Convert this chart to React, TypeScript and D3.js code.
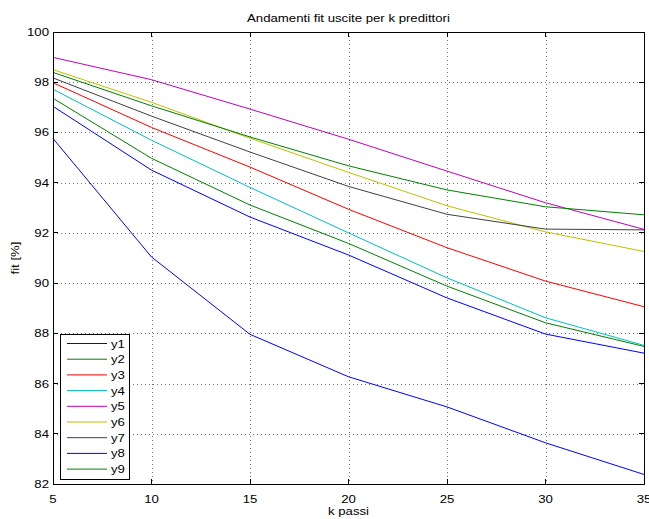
import React from "react";
import * as d3 from "d3";

const kSteps = [5, 10, 15, 20, 25, 30, 35];
const seriesNames = ["y1", "y2", "y3", "y4", "y5", "y6", "y7", "y8", "y9"];
const y1 = [97.04, 94.5, 92.63, 91.12, 89.41, 87.97, 87.21];
const y2 = [97.36, 94.97, 93.11, 91.58, 89.88, 88.42, 87.48];
const y3 = [97.98, 96.2, 94.62, 92.94, 91.41, 90.08, 89.06];
const y4 = [97.72, 95.69, 93.81, 92.0, 90.21, 88.62, 87.52];
const y5 = [98.99, 98.1, 96.93, 95.73, 94.46, 93.2, 92.14];
const y6 = [98.5, 97.2, 95.77, 94.41, 93.08, 92.04, 91.26];
const y7 = [98.17, 96.65, 95.22, 93.85, 92.74, 92.15, 92.12];
const y8 = [95.76, 91.04, 87.96, 86.27, 85.07, 83.64, 82.38];
const y9 = [98.39, 97.06, 95.82, 94.67, 93.71, 93.04, 92.72];
const seriesValues = [y1, y2, y3, y4, y5, y6, y7, y8, y9];
const seriesColors = [
  "#0000ff",
  "#008000",
  "#ff0000",
  "#00bfbf",
  "#bf00bf",
  "#bfbf00",
  "#404040",
  "#0000ff",
  "#008000",
];
const xTicks = [5, 10, 15, 20, 25, 30, 35];
const yTicks = [82, 84, 86, 88, 90, 92, 94, 96, 98, 100];

const W = 649;
const H = 519;
const M = { left: 53, right: 5, top: 32, bottom: 35 };
const SX = 1.2;

function T(props: {
  x: number;
  y: number;
  anchor?: "start" | "middle" | "end";
  size?: number;
  rotate?: boolean;
  children: React.ReactNode;
}) {
  const { x, y, anchor = "start", size = 11, rotate = false, children } = props;
  const tr = rotate
    ? `translate(${x},${y}) rotate(-90) scale(${SX},1)`
    : `translate(${x},${y}) scale(${SX},1)`;
  return (
    <text transform={tr} textAnchor={anchor} fontSize={size} fill="#000">
      {children}
    </text>
  );
}

export default function App() {
  const x = d3.scaleLinear().domain([5, 35]).range([M.left, W - M.right]);
  const y = d3.scaleLinear().domain([82, 100]).range([H - M.bottom, M.top]);
  const line = d3
    .line<number>()
    .x((_, i) => x(kSteps[i]))
    .y((d) => y(d));
  const x0 = x(5),
    x1 = x(35),
    yTop = y(100),
    yBot = y(82);
  const font = "'Liberation Sans', Arial, Helvetica, sans-serif";
  const tick = 5;
  const legend = { x: 60, y: 334, w: 69, h: 145, row: 15.7 };

  return (
    <svg
      width={W}
      height={H}
      style={{ position: "absolute", left: 0, top: 0, background: "#fff" }}
      fontFamily={font}
    >
      <rect x={0} y={0} width={W} height={H} fill="#fff" />
      {/* grid */}
      <g stroke="#000" strokeWidth={1} strokeDasharray="1,3" shapeRendering="crispEdges" opacity={0.55}>
        {xTicks.slice(1, -1).map((t) => (
          <line key={"gx" + t} x1={Math.round(x(t)) + 0.5} x2={Math.round(x(t)) + 0.5} y1={yTop} y2={yBot} />
        ))}
        {yTicks.slice(1, -1).map((t) => (
          <line key={"gy" + t} x1={x0} x2={x1} y1={Math.round(y(t)) + 0.5} y2={Math.round(y(t)) + 0.5} />
        ))}
      </g>
      {/* series */}
      <g fill="none" strokeWidth={1}>
        {seriesValues.map((vals, i) => (
          <path key={seriesNames[i]} d={line(vals) || ""} stroke={seriesColors[i]} />
        ))}
      </g>
      {/* frame and ticks */}
      <g stroke="#000" strokeWidth={1} shapeRendering="crispEdges">
        <rect x={x0} y={yTop} width={x1 - x0} height={yBot - yTop} fill="none" />
        {xTicks.map((t) => (
          <g key={"tx" + t}>
            <line x1={x(t)} x2={x(t)} y1={yBot} y2={yBot - tick} />
            <line x1={x(t)} x2={x(t)} y1={yTop} y2={yTop + tick} />
          </g>
        ))}
        {yTicks.map((t) => (
          <g key={"ty" + t}>
            <line x1={x0} x2={x0 + tick} y1={y(t)} y2={y(t)} />
            <line x1={x1} x2={x1 - tick} y1={y(t)} y2={y(t)} />
          </g>
        ))}
      </g>
      {/* tick labels */}
      {xTicks.map((t) => (
        <T key={"lx" + t} x={x(t)} y={yBot + 19} anchor="middle">
          {t}
        </T>
      ))}
      {yTicks.map((t) => (
        <T key={"ly" + t} x={x0 - 4} y={y(t) + 4} anchor="end">
          {t}
        </T>
      ))}
      {/* titles */}
      <T x={(x0 + x1) / 2} y={22} anchor="middle">
        Andamenti fit uscite per k predittori
      </T>
      <T x={(x0 + x1) / 2} y={515} anchor="middle">
        k passi
      </T>
      <T x={19} y={(yTop + yBot) / 2} anchor="middle" rotate>
        fit [%]
      </T>
      {/* legend */}
      <g>
        <rect
          x={legend.x}
          y={legend.y}
          width={legend.w}
          height={legend.h}
          fill="#fff"
          stroke="#000"
          shapeRendering="crispEdges"
        />
        {seriesNames.map((n, i) => {
          const ly = legend.y + 9.5 + i * legend.row;
          return (
            <g key={"lg" + n}>
              <line x1={67} x2={107} y1={ly} y2={ly} stroke={seriesColors[i]} strokeWidth={1} />
              <T x={111} y={ly + 4}>
                {n}
              </T>
            </g>
          );
        })}
      </g>
    </svg>
  );
}
